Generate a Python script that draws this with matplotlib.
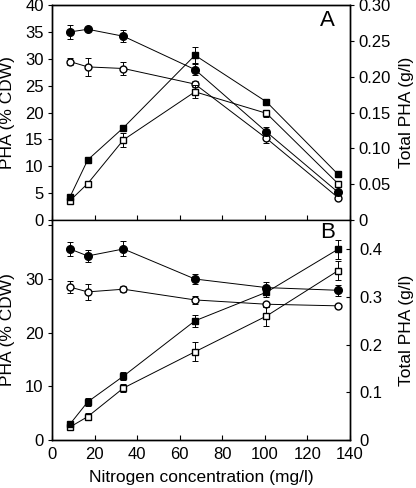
import matplotlib
matplotlib.use("Agg")
import matplotlib.pyplot as plt

plt.rcParams['font.family'] = ['Liberation Sans', 'DejaVu Sans']

# nitrogen concentration (mg/l)
nitrogen = [8.4, 16.8, 33.6, 67.2, 100.8, 134.4]

# panel A
a_pha_filled = [35.0, 35.5, 34.2, 28.0, 16.4, 5.2]
a_pha_filled_err = [1.3, 0.3, 1.1, 1.1, 0.9, 0.3]
a_pha_open = [29.5, 28.5, 28.2, 25.3, 15.2, 4.2]
a_pha_open_err = [0.6, 1.7, 1.3, 0.5, 0.8, 0.2]
a_tot_filled = [0.032, 0.084, 0.129, 0.230, 0.165, 0.064]
a_tot_filled_err = [0.002, 0.003, 0.004, 0.011, 0.004, 0.002]
a_tot_open = [0.027, 0.051, 0.112, 0.179, 0.149, 0.051]
a_tot_open_err = [0.002, 0.002, 0.010, 0.009, 0.005, 0.002]

# panel B
b_pha_filled = [35.6, 34.3, 35.6, 30.0, 28.4, 27.9]
b_pha_filled_err = [1.3, 1.1, 1.4, 1.0, 1.0, 1.0]
b_pha_open = [28.5, 27.6, 28.1, 26.1, 25.3, 25.0]
b_pha_open_err = [1.2, 1.5, 0.6, 0.8, 0.5, 0.4]
b_tot_filled = [0.033, 0.080, 0.134, 0.250, 0.310, 0.400]
b_tot_filled_err = [0.003, 0.008, 0.009, 0.012, 0.010, 0.020]
b_tot_open = [0.027, 0.049, 0.109, 0.185, 0.260, 0.355]
b_tot_open_err = [0.003, 0.008, 0.009, 0.020, 0.020, 0.020]

FS = 12


def draw_panel(ax, pha_f, pha_f_e, pha_o, pha_o_e, tot_f, tot_f_e, tot_o, tot_o_e):
    kw = dict(color='black', lw=0.7, capsize=2, elinewidth=0.7, capthick=0.7)
    ax.errorbar(nitrogen, pha_o, yerr=pha_o_e, fmt='-o', mfc='white', mec='black',
                ms=5, **kw)
    ax.errorbar(nitrogen, pha_f, yerr=pha_f_e, fmt='-o', mfc='black', mec='black',
                ms=5.5, **kw)
    ax2 = ax.twinx()
    ax2.errorbar(nitrogen, tot_o, yerr=tot_o_e, fmt='-s', mfc='white', mec='black',
                 ms=4.2, **kw)
    ax2.errorbar(nitrogen, tot_f, yerr=tot_f_e, fmt='-s', mfc='black', mec='black',
                 ms=4.2, **kw)
    ax.set_xlim(0, 140)
    ax.set_xticks([0, 20, 40, 60, 80, 100, 120, 140])
    ax.tick_params(axis='x', direction='in', length=3.5, pad=5)
    ax.tick_params(axis='y', direction='out', length=3, pad=3)
    ax.tick_params(labelsize=FS)
    ax2.tick_params(labelsize=FS)
    ax.set_ylabel('PHA (% CDW)', fontsize=FS + 0.5)
    ax2.set_ylabel('Total PHA (g/l)', fontsize=FS + 0.5)
    # same label positions in both panels
    ax.yaxis.set_label_coords(-0.125, 0.5)
    ax2.yaxis.set_label_coords(1.165, 0.5)
    for a in (ax, ax2):
        for s in a.spines.values():
            s.set_linewidth(1.0)
    return ax2


fig = plt.figure(figsize=(4.16, 4.88), dpi=100)
ax_a = fig.add_axes([0.125, 0.549, 0.716, 0.4406])
ax_b = fig.add_axes([0.125, 0.0984, 0.716, 0.4508])

ax_a2 = draw_panel(ax_a, a_pha_filled, a_pha_filled_err, a_pha_open, a_pha_open_err,
                   a_tot_filled, a_tot_filled_err, a_tot_open, a_tot_open_err)
ax_a.set_ylim(0, 40)
ax_a.set_yticks(range(0, 41, 5))
ax_a.tick_params(axis='x', labelbottom=False)
ax_a2.set_ylim(0, 0.30)
ax_a2.set_yticks([0, 0.05, 0.10, 0.15, 0.20, 0.25, 0.30])
ax_a2.set_yticklabels(['0', '0.05', '0.10', '0.15', '0.20', '0.25', '0.30'])
ax_a2.tick_params(axis='y', direction='out', length=3, pad=3)
ax_a.text(0.925, 0.93, 'A', transform=ax_a.transAxes, fontsize=16, ha='center', va='center')

ax_b2 = draw_panel(ax_b, b_pha_filled, b_pha_filled_err, b_pha_open, b_pha_open_err,
                   b_tot_filled, b_tot_filled_err, b_tot_open, b_tot_open_err)
ax_b.set_ylim(0, 41)
ax_b.set_yticks([0, 10, 20, 30, 40])
ax_b.set_yticklabels(['0', '10', '20', '30', ''])
ax_b.spines['top'].set_visible(False)
ax_b2.spines['top'].set_visible(False)
ax_b2.set_ylim(0, 0.4615)
ax_b2.set_yticks([0, 0.1, 0.2, 0.3, 0.4])
ax_b2.set_yticklabels(['0', '0.1', '0.2', '0.3', '0.4'])
ax_b2.tick_params(axis='y', direction='in', length=3, pad=7)
ax_b.set_xlabel('Nitrogen concentration (mg/l)', fontsize=FS + 0.5, labelpad=6)
ax_b.text(0.925, 0.945, 'B', transform=ax_b.transAxes, fontsize=16, ha='center', va='center')

fig.savefig('out.png', dpi=100)
